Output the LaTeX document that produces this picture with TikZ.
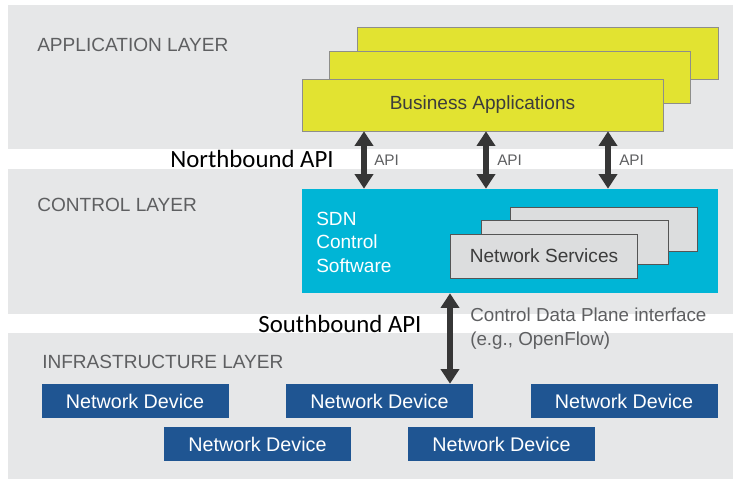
\documentclass[tikz,border=0pt]{standalone}
\usepackage{fontspec}
\setmainfont{Liberation Sans}
\newfontfamily\calibrifont{Carlito}
\usepackage{xcolor}
\usepackage{tikz}
\usetikzlibrary{arrows.meta}
\definecolor{bandgray}{HTML}{E6E7E8}
\definecolor{labelgray}{HTML}{5E5F61}
\definecolor{darktext}{HTML}{3C3C3C}
\definecolor{appyellow}{HTML}{E2E331}
\definecolor{appborder}{HTML}{8E8E8A}
\definecolor{sdncyan}{HTML}{00B5D6}
\definecolor{svcgray}{HTML}{DCDDDE}
\definecolor{svcborder}{HTML}{555555}
\definecolor{devblue}{HTML}{1F5592}
\definecolor{arrowdark}{HTML}{363636}
\tikzset{
  layer/.style={rectangle, fill=bandgray, minimum width=543.4pt, inner sep=0pt},
  layername/.style={anchor=west, inner sep=0pt, text=labelgray, font=\fontsize{14.3}{17}\selectfont},
  app/.style={draw=appborder, fill=appyellow, minimum width=270.75pt, minimum height=39pt, inner sep=0pt, text=darktext, font=\fontsize{14.3}{17}\selectfont},
  svc/.style={draw=svcborder, fill=svcgray, minimum width=140.25pt, minimum height=33pt, inner sep=0pt, text=darktext, font=\fontsize{14.3}{17}\selectfont},
  device/.style={fill=devblue, minimum width=140.25pt, minimum height=25.5pt, inner sep=0pt, text=white, font=\fontsize{14.8}{17}\selectfont},
  apilabel/.style={anchor=west, inner sep=0pt, text=labelgray, font=\fontsize{11.5}{14}\selectfont},
  boundlabel/.style={inner sep=0pt, font=\calibrifont\fontsize{18.6}{22}\selectfont},
  biarrow/.style={{Triangle[width=13.5pt,length=11pt]}-{Triangle[width=13.5pt,length=11pt]}, line width=3.8pt, draw=arrowdark}
}

\begin{document}
\begin{tikzpicture}[x=0.75pt, y=-0.75pt]
    \useasboundingbox (0,0) rectangle (740,487);

    \node[layer, minimum height=108pt] (applayer) at (370.75,77) {};
    \node[layer, minimum height=108.75pt] (ctrllayer) at (370.75,241.5) {};
    \node[layer, minimum height=109.5pt] (infralayer) at (370.75,406) {};

    \node[layername] (applabel) at (37,45) {APPLICATION LAYER};
    \node[layername] (ctrllabel) at (37,205) {CONTROL LAYER};
    \node[layername] (infralabel) at (42,362) {INFRASTRUCTURE LAYER};

    \node[app] (app3) at (537.5,53) {};
    \node[app] (app2) at (510,77) {};
    \node[app] (bizapp) at (482.5,105) {Business Applications};

    \node[rectangle, fill=sdncyan, minimum width=312pt, minimum height=78pt, inner sep=0pt] (sdn) at (510,241) {};
    \node[anchor=west, align=left, inner sep=0pt, text=white, font=\fontsize{14.3}{17.6}\selectfont] (sdntext) at (316,242) {SDN\\Control\\Software};

    \node[svc] (svc3) at (604,229) {};
    \node[svc] (svc2) at (575,242.5) {};
    \node[svc] (netsvc) at (544,256) {Network Services};

    \node[device] (devA) at (135,401) {Network Device};
    \node[device] (devB) at (379.5,401) {Network Device};
    \node[device] (devC) at (624,401) {Network Device};
    \node[device] (devD) at (257.5,444) {Network Device};
    \node[device] (devE) at (501.5,444) {Network Device};

    \coordinate (nb1) at (364,160);
    \coordinate (nb2) at (486,160);
    \coordinate (nb3) at (608,160);
    \coordinate (sb) at (450,330);

    \draw[biarrow] (nb1 |- bizapp.south) -- (nb1 |- sdn.north);
    \draw[biarrow] (nb2 |- bizapp.south) -- (nb2 |- sdn.north);
    \draw[biarrow] (nb3 |- bizapp.south) -- (nb3 |- sdn.north);
    \draw[biarrow] (sb |- sdn.south) -- (sb |- devB.north);

    \node[apilabel] (api1) at (374,160) {API};
    \node[apilabel] (api2) at (497,160) {API};
    \node[apilabel] (api3) at (619,160) {API};

    \node[boundlabel] (northbound) at (252,159) {Northbound API};
    \node[boundlabel] (southbound) at (340,324) {Southbound API};

    \node[anchor=west, align=left, inner sep=0pt, text=labelgray, font=\fontsize{14.1}{18}\selectfont] (cdpi) at (470,329) {Control Data Plane interface\\(e.g., OpenFlow)};
\end{tikzpicture}
\end{document}
